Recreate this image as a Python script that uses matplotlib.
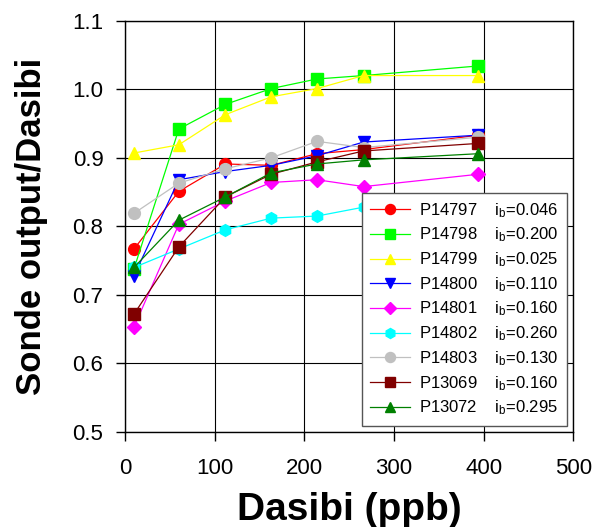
import numpy as np
import matplotlib
matplotlib.use("Agg")
import matplotlib.pyplot as plt

plt.rcParams["font.family"] = ["Liberation Sans", "DejaVu Sans"]
plt.rcParams["mathtext.fontset"] = "custom"
plt.rcParams["mathtext.rm"] = "Liberation Sans"
plt.rcParams["mathtext.it"] = "Liberation Sans"

# dasibi concentrations (ppb)
dasibi = [10, 60, 112, 163, 214, 266, 394]

# sonde output / dasibi for each sonde
p14797 = [0.767, 0.851, 0.891, 0.889, 0.906, 0.912, 0.933]
p14798 = [0.738, 0.942, 0.978, 1.001, 1.015, 1.020, 1.034]
p14799 = [0.907, 0.919, 0.963, 0.989, 1.001, 1.020, 1.020]
p14800 = [0.728, 0.868, 0.880, 0.889, 0.903, 0.923, 0.933]
p14801 = [0.653, 0.803, 0.837, 0.864, 0.868, 0.858, 0.876]
p14802 = [0.740, 0.767, 0.795, 0.812, 0.815, 0.828, 0.834]
p14803 = [0.819, 0.863, 0.884, 0.900, 0.924, 0.915, 0.930]
p13069 = [0.672, 0.770, 0.843, 0.876, 0.894, 0.910, 0.921]
p13072 = [0.740, 0.809, 0.843, 0.878, 0.891, 0.897, 0.906]

sondes = ["P14797", "P14798", "P14799", "P14800", "P14801",
          "P14802", "P14803", "P13069", "P13072"]
ib = ["0.046", "0.200", "0.025", "0.110", "0.160",
      "0.260", "0.130", "0.160", "0.295"]
series = [p14797, p14798, p14799, p14800, p14801,
          p14802, p14803, p13069, p13072]
colors = ["#ff0000", "#00ff00", "#ffff00", "#0000ff", "#ff00ff",
          "#00ffff", "#c0c0c0", "#800000", "#008000"]
markers = ["o", "s", "^", "v", "D", "h", "o", "s", "^"]

fig = plt.figure(figsize=(6.09, 5.27), dpi=100)
ax = fig.add_axes([0.2053, 0.1803, 0.7364, 0.7804])

for name, b, y, c, m in zip(sondes, ib, series, colors, markers):
    ms = 7 if m == "D" else 8.5
    ax.plot(dasibi, y, color=c, marker=m, markersize=ms, linewidth=0.9,
            label=f"{name}    i$_\\mathregular{{b}}$={b}")

ax.set_xlim(0, 500)
ax.set_ylim(0.5, 1.1)
ax.set_xticks(np.arange(0, 501, 100))
ax.set_yticks(np.arange(0.5, 1.11, 0.1))
ax.set_yticklabels([f"{v:.1f}" for v in np.arange(0.5, 1.11, 0.1)])
ax.grid(True, color="black", linewidth=0.8)
ax.set_axisbelow(True)
for s in ax.spines.values():
    s.set_linewidth(1.0)
ax.tick_params(direction="out", length=6.5, width=1, labelsize=16)
ax.tick_params(axis="y", pad=9)
ax.tick_params(axis="x", pad=12)

ax.set_xlabel("Dasibi (ppb)", fontsize=28, fontweight="bold")
ax.xaxis.set_label_coords(0.5, -0.145)
ax.set_ylabel("Sonde output/Dasibi", fontsize=25, fontweight="bold")
ax.yaxis.set_label_coords(-0.172, 0.5)

leg = ax.legend(loc="upper right", bbox_to_anchor=(0.9855, 0.582), fontsize=12,
                fancybox=False, framealpha=1, edgecolor="#555555",
                handlelength=2.4, labelspacing=0.36, borderpad=0.5,
                handletextpad=0.55, borderaxespad=0, markerscale=0.85)
leg.set_zorder(5)

plt.savefig("out.png", dpi=100)
